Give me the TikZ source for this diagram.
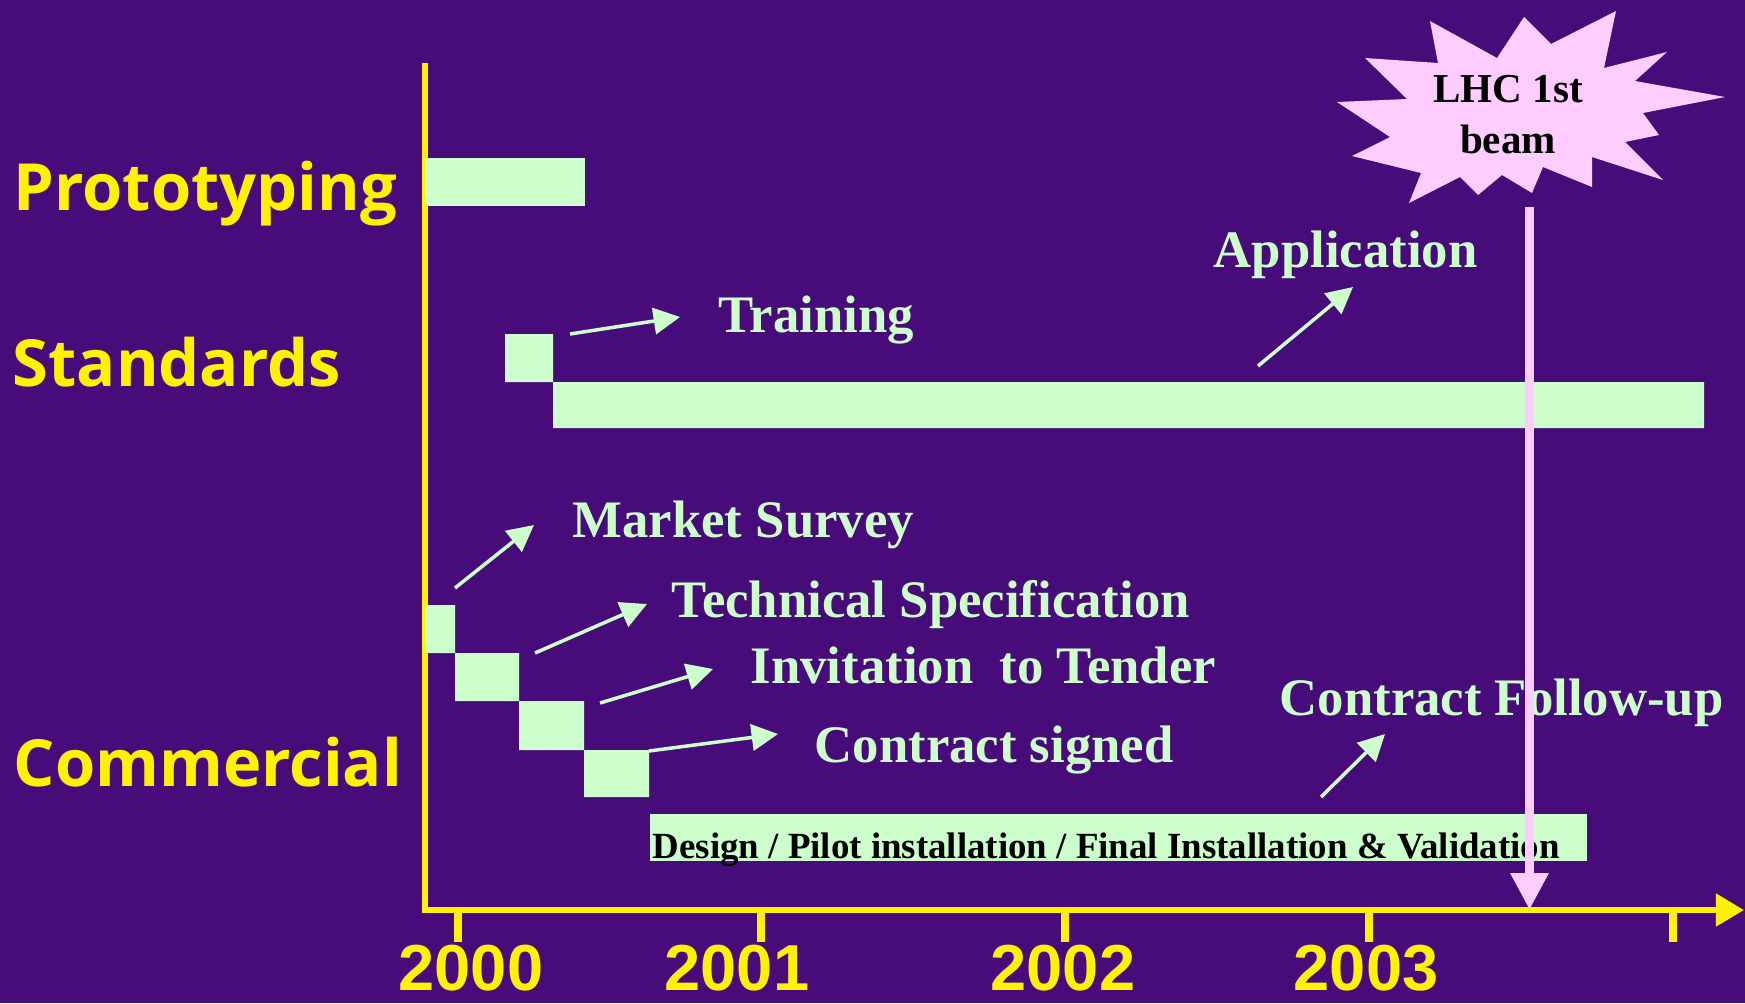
\documentclass[tikz,border=0pt]{standalone}
\usepackage{fontspec}
\setmainfont{Liberation Serif}
\newfontfamily\headfont{Open Sans}
\newfontfamily\yearfont{Liberation Sans}
\usetikzlibrary{arrows.meta}
\definecolor{bgviolet}{RGB}{72,12,122}
\definecolor{barmint}{RGB}{204,255,204}
\definecolor{beampink}{RGB}{255,204,255}

\begin{document}
\begin{tikzpicture}[x=0.1mm,y=-0.1mm,
  phase/.style={anchor=base west,inner sep=0pt,text=yellow,font=\headfont\bfseries\fontsize{18.5}{22}\selectfont},
  task/.style={anchor=base west,inner sep=0pt,text=barmint,font=\bfseries\fontsize{15}{18}\selectfont},
  year/.style={anchor=base,inner sep=0pt,text=yellow,font=\yearfont\bfseries\fontsize{18.5}{22}\selectfont},
  pointer/.style={barmint,line width=1pt,-{Triangle[length=7.5pt,width=7.5pt]}},
  ganttbar/.style={fill=barmint}]
\useasboundingbox (0,0) rectangle (1745,1003);
\fill[bgviolet] (0,0) rectangle (1745,1003);
% axes and years
\draw[yellow,line width=1.7pt,-{Triangle[length=8pt,width=9pt]}] (425,63) -- (425,910) -- (1744,910);
\foreach \t in {458,761,1065,1369,1673} \draw[yellow,line width=2.4pt] (\t,910) -- (\t,942);
\node[year] (y2000) at (471,990) {2000};
\node[year] (y2001) at (737,990) {2001};
\node[year] (y2002) at (1063,990) {2002};
\node[year] (y2003) at (1366,990) {2003};
% phases
\node[phase] (proto) at (13,210) {Prototyping};
\node[phase] (std) at (12,386) {Standards};
\node[phase] (comm) at (13,786) {Commercial};
% bars
\fill[ganttbar] (425,158) rectangle (585,206);
\fill[ganttbar] (505,334) rectangle (553,382) (553,382) rectangle (1704,428);
\fill[ganttbar] (425,605) rectangle (455,653) (455,653) rectangle (519,701)
  (519,701) rectangle (584,750) (584,750) rectangle (649,797);
\fill[ganttbar] (650,814) rectangle (1587,861);
\node[anchor=base west,inner sep=0pt,font=\bfseries\fontsize{10.5}{12}\selectfont] (design) at (652,858) {Design / Pilot installation / Final Installation \& Validation};
% task labels
\node[task] (train) at (718,332) {Training};
\node[task] (appl) at (1213,267) {Application};
\node[task] (market) at (572,537) {Market Survey};
\node[task] (spec) at (671,617) {Technical Specification};
\node[task] (tender) at (750,683) {Invitation~ to Tender};
\node[task] (signed) at (814,762) {Contract signed};
\node[task] (follow) at (1279,715) {Contract Follow-up};
% pointers
\coordinate (trainA) at (570,334); \coordinate (trainB) at (680,317);
\coordinate (applA) at (1258,366); \coordinate (applB) at (1353,287);
\coordinate (marketA) at (455,588); \coordinate (marketB) at (534,525);
\coordinate (specA) at (535,653); \coordinate (specB) at (647,604);
\coordinate (tenderA) at (600,703); \coordinate (tenderB) at (713,669);
\coordinate (signedA) at (649,751); \coordinate (signedB) at (778,734);
\coordinate (followA) at (1321,797); \coordinate (followB) at (1385,734);
\foreach \p in {train,appl,market,spec,tender,signed,follow} \draw[pointer] (\p A) -- (\p B);
% LHC 1st beam
\fill[beampink] (1430,21) -- (1497,58) -- (1524,17) -- (1551,44) -- (1616,11) -- (1604,68)
  -- (1667,52) -- (1635,81) -- (1725,97) -- (1643,113) -- (1659,135) -- (1625,142)
  -- (1663,180) -- (1592,157) -- (1592,187) -- (1543,167) -- (1532,193) -- (1502,175)
  -- (1478,195) -- (1460,177) -- (1409,203) -- (1421,173) -- (1352,156) -- (1390,137)
  -- (1337,102) -- (1407,99) -- (1365,58) -- (1438,63) -- cycle;
\node[anchor=base,inner sep=0pt,font=\bfseries\fontsize{11.7}{14}\selectfont] (lhc) at (1508,102) {LHC 1st};
\node[anchor=base,inner sep=0pt,font=\bfseries\fontsize{11.7}{14}\selectfont] (beam) at (1508,153) {beam};
\coordinate (burst) at (1529.5,207); \coordinate (beamtip) at (1529.5,910);
\draw[beampink,line width=2.6pt,-{Triangle[length=10.5pt,width=10.2pt]}] (burst) -- (beamtip);
\end{tikzpicture}
\end{document}
